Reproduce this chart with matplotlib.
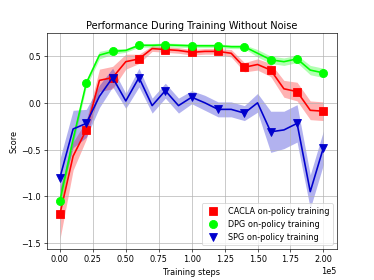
import numpy as np
import matplotlib
matplotlib.use("Agg")
import matplotlib.pyplot as plt
from matplotlib.lines import Line2D

# training steps (in units of 1e5 after scientific offset)
steps = np.arange(0, 200001, 10000)

cacla_mean = [-1.19, -0.57, -0.29, 0.24, 0.27, 0.44, 0.47, 0.58, 0.57, 0.56, 0.54,
              0.55, 0.55, 0.53, 0.38, 0.41, 0.35, 0.15, 0.12, -0.08, -0.09]
cacla_std = [0.27, 0.15, 0.1, 0.12, 0.12, 0.08, 0.05, 0.03, 0.03, 0.03, 0.03,
             0.03, 0.03, 0.04, 0.05, 0.06, 0.07, 0.09, 0.1, 0.1, 0.1]

dpg_mean = [-1.05, -0.39, 0.21, 0.51, 0.55, 0.56, 0.615, 0.615, 0.62, 0.615, 0.61,
            0.61, 0.61, 0.60, 0.60, 0.53, 0.46, 0.44, 0.47, 0.35, 0.32]
dpg_std = [0.1, 0.05, 0.04, 0.04, 0.03, 0.02, 0.02, 0.02, 0.02, 0.02, 0.02,
           0.02, 0.02, 0.02, 0.02, 0.04, 0.04, 0.04, 0.04, 0.05, 0.05]

spg_mean = [-0.80, -0.28, -0.22, 0.07, 0.27, 0.02, 0.27, -0.03, 0.13, -0.03, 0.06,
            0.0, -0.07, -0.07, -0.11, 0.0, -0.31, -0.29, -0.22, -0.95, -0.48]
spg_std = [0.2, 0.2, 0.15, 0.12, 0.1, 0.08, 0.1, 0.08, 0.08, 0.08, 0.07,
           0.08, 0.08, 0.08, 0.08, 0.1, 0.22, 0.2, 0.2, 0.18, 0.18]

series = [
    ("CACLA on-policy training", cacla_mean, cacla_std, "red", "s"),
    ("DPG on-policy training", dpg_mean, dpg_std, "lime", "o"),
    ("SPG on-policy training", spg_mean, spg_std, "mediumblue", "v"),
]

fig, ax = plt.subplots(figsize=(6.4, 4.8))

handles = []
for label, mean, std, color, marker in series:
    mean = np.array(mean)
    std = np.array(std)
    ax.fill_between(steps, mean - std, mean + std, color=color, alpha=0.3, lw=0)
    ax.plot(steps, mean, color=color, lw=2, marker=marker, markersize=10,
            markevery=2)
    handles.append(Line2D([], [], color=color, marker=marker, linestyle="none",
                          markersize=10, label=label))

ax.grid(True)
ax.ticklabel_format(axis="x", style="sci", scilimits=(0, 0))
ax.set_title("Performance During Training Without Noise")
ax.set_xlabel("Training steps")
ax.set_ylabel("Score")
ax.legend(handles=handles, loc="lower right")

fig.savefig("out.png", dpi=374 / 6.4)
